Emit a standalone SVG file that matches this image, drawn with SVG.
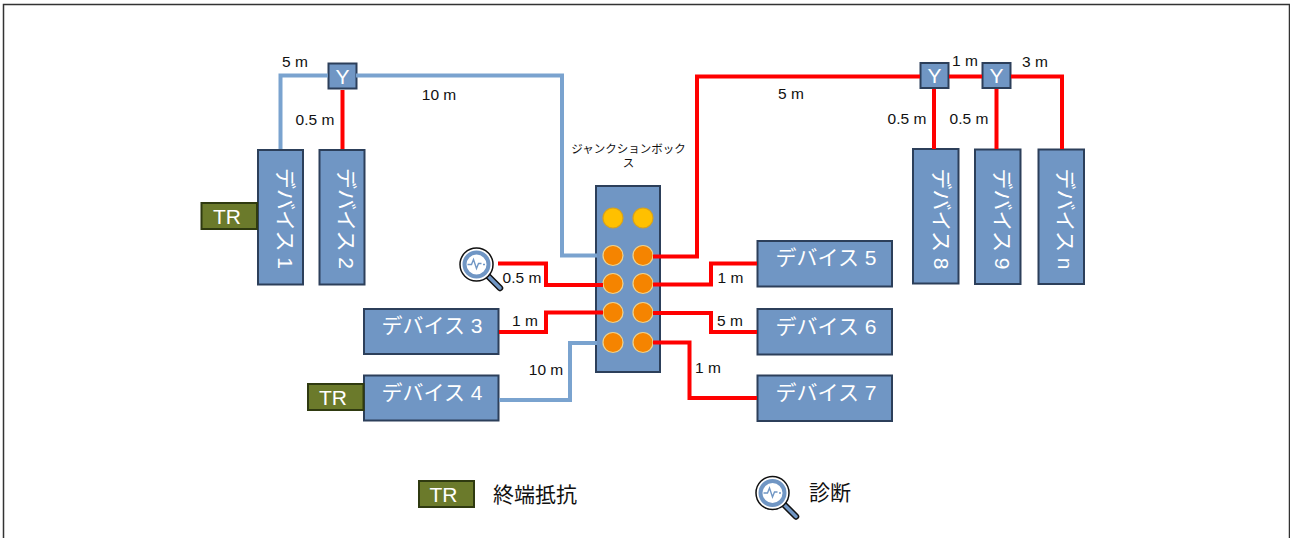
<svg xmlns="http://www.w3.org/2000/svg" width="1290" height="538" viewBox="0 0 1290 538">
<style>
text{font-family:"Liberation Sans","Noto Sans CJK JP",sans-serif}
.box{fill:#7096c4;stroke:#2c3f5a;stroke-width:2}
.w{fill:#fff;font-size:21px;text-anchor:middle}
.lbl{fill:#111;font-size:15.500px;text-anchor:middle}
.tr{fill:#6b7a2b;stroke:#2f3a10;stroke-width:2}
.red{fill:none;stroke:#ff0000;stroke-width:4}
.blue{fill:none;stroke:#7aa3cf;stroke-width:4}
.p{fill:#f58400;stroke:#f0d28a;stroke-width:1.200}
.q{fill:#ffc000;stroke:#d9a21a;stroke-width:1.200}
.jt{font-size:11.500px;text-anchor:middle;fill:#111}
.leg{font-size:21px;fill:#111}
</style>
<defs>
<g id="lens">
<line x1="10" y1="10" x2="23.500" y2="23.500" stroke="#111" stroke-width="6.500" stroke-linecap="round"/>
<line x1="10" y1="10" x2="23.500" y2="23.500" stroke="#7096c4" stroke-width="3.500" stroke-linecap="round"/>
<circle r="16.500" fill="#fff" stroke="#111" stroke-width="1.500"/>
<circle r="12" fill="#fff" stroke="#7096c4" stroke-width="4"/>
<path d="M-9 0H-5L-3 -5L0 4L2 -1H5M6.500 0H8.500" fill="none" stroke="#7096c4" stroke-width="1.400"/>
</g>
</defs>
<path d="M3.500 538V4.500H1289.500V538" fill="#fff" stroke="#333" stroke-width="1.500"/>
<g id="junction-box">
<rect class="box" x="596" y="186" width="64" height="186"/>
<circle class="q" cx="613" cy="218" r="10"/><circle class="q" cx="643" cy="218" r="10"/>
<circle class="p" cx="613" cy="255.500" r="10"/><circle class="p" cx="643" cy="255.500" r="10"/>
<circle class="p" cx="613" cy="283.500" r="10"/><circle class="p" cx="643" cy="283.500" r="10"/>
<circle class="p" cx="613" cy="312.500" r="10"/><circle class="p" cx="643" cy="312.500" r="10"/>
<circle class="p" cx="613" cy="342.500" r="10"/><circle class="p" cx="643" cy="342.500" r="10"/>
<text class="jt" x="628.500" y="152.500">ジャンクションボック</text>
<text class="jt" x="628.500" y="167">ス</text>
</g>
<g id="y1"><rect class="box" x="328.500" y="63.500" width="28" height="25"/><text class="w" x="342.500" y="84">Y</text></g>
<g id="y2"><rect class="box" x="920.500" y="63" width="28" height="25"/><text class="w" x="934.500" y="83">Y</text></g>
<g id="y3"><rect class="box" x="982.500" y="63" width="28" height="25"/><text class="w" x="996.500" y="83">Y</text></g>
<g id="device1"><rect class="box" x="258" y="150" width="45" height="134.500"/><text class="w" transform="translate(278,218.500) rotate(90)">デバイス 1</text></g>
<g id="device2"><rect class="box" x="319.500" y="150" width="45" height="134.500"/><text class="w" transform="translate(339,218.500) rotate(90)">デバイス 2</text></g>
<g id="device8"><rect class="box" x="913" y="149" width="45.500" height="134.500"/><text class="w" transform="translate(933.500,219) rotate(90)">デバイス 8</text></g>
<g id="device9"><rect class="box" x="975" y="149.500" width="45.500" height="134.500"/><text class="w" transform="translate(995,219) rotate(90)">デバイス 9</text></g>
<g id="devicen"><rect class="box" x="1038.500" y="149.500" width="45.500" height="134.500"/><text class="w" transform="translate(1057.500,219) rotate(90)">デバイス n</text></g>
<g id="device3"><rect class="box" x="364" y="309" width="134.500" height="45"/><text class="w" x="432" y="333">デバイス 3</text></g>
<g id="device4"><rect class="box" x="364" y="375.500" width="134.500" height="45"/><text class="w" x="432" y="400">デバイス 4</text></g>
<g id="device5"><rect class="box" x="757.500" y="241" width="134.500" height="45.500"/><text class="w" x="826" y="265">デバイス 5</text></g>
<g id="device6"><rect class="box" x="757.500" y="309" width="134.500" height="45.500"/><text class="w" x="826" y="334">デバイス 6</text></g>
<g id="device7"><rect class="box" x="757.500" y="375.500" width="134.500" height="45.500"/><text class="w" x="826" y="400">デバイス 7</text></g>
<g id="tr1"><rect class="tr" x="201.500" y="203" width="55.500" height="26"/><text class="w" x="227" y="224">TR</text></g>
<g id="tr2"><rect class="tr" x="308" y="384" width="55.500" height="26"/><text class="w" x="333" y="405">TR</text></g>
<g id="tr-legend"><rect class="tr" x="419" y="481" width="55" height="26"/><text class="w" x="443.500" y="501.500">TR</text></g>
<g id="diag1"><use href="#lens" x="476.500" y="264.500"/></g>
<g id="diag-legend"><use href="#lens" x="772.500" y="493"/></g>
<g id="connectors">
<path class="blue" d="M280.500 149V75.500H328M356 75.500H562V255.500H597"/>
<path class="blue" d="M499 400H570V343H597"/>
<path class="red" d="M342.500 90V149"/>
<path class="red" d="M653 256.500H697V76.500H920M949 76.500H982M1011 76.500H1062V149"/>
<path class="red" d="M934 89V149M996.500 89V149"/>
<path class="red" d="M498 263.500H546V285H603"/>
<path class="red" d="M499 332H546V312.500H603"/>
<path class="red" d="M653 284.500H711V263.500H757"/>
<path class="red" d="M653 313H711V332H757"/>
<path class="red" d="M653 342.500H689.500V398H757"/>
</g>
<g id="labels">
<text class="lbl" x="295" y="67">5 m</text>
<text class="lbl" x="439" y="100">10 m</text>
<text class="lbl" x="315" y="125">0.5 m</text>
<text class="lbl" x="522" y="282.500">0.5 m</text>
<text class="lbl" x="525" y="325.500">1 m</text>
<text class="lbl" x="546" y="375">10 m</text>
<text class="lbl" x="730.500" y="283">1 m</text>
<text class="lbl" x="730" y="326">5 m</text>
<text class="lbl" x="708" y="373">1 m</text>
<text class="lbl" x="791" y="99">5 m</text>
<text class="lbl" x="965" y="65.500">1 m</text>
<text class="lbl" x="1035" y="67">3 m</text>
<text class="lbl" x="907" y="124">0.5 m</text>
<text class="lbl" x="969" y="124">0.5 m</text>
<text class="leg" x="493" y="502">終端抵抗</text>
<text class="leg" x="809" y="500">診断</text>
</g>
</svg>
